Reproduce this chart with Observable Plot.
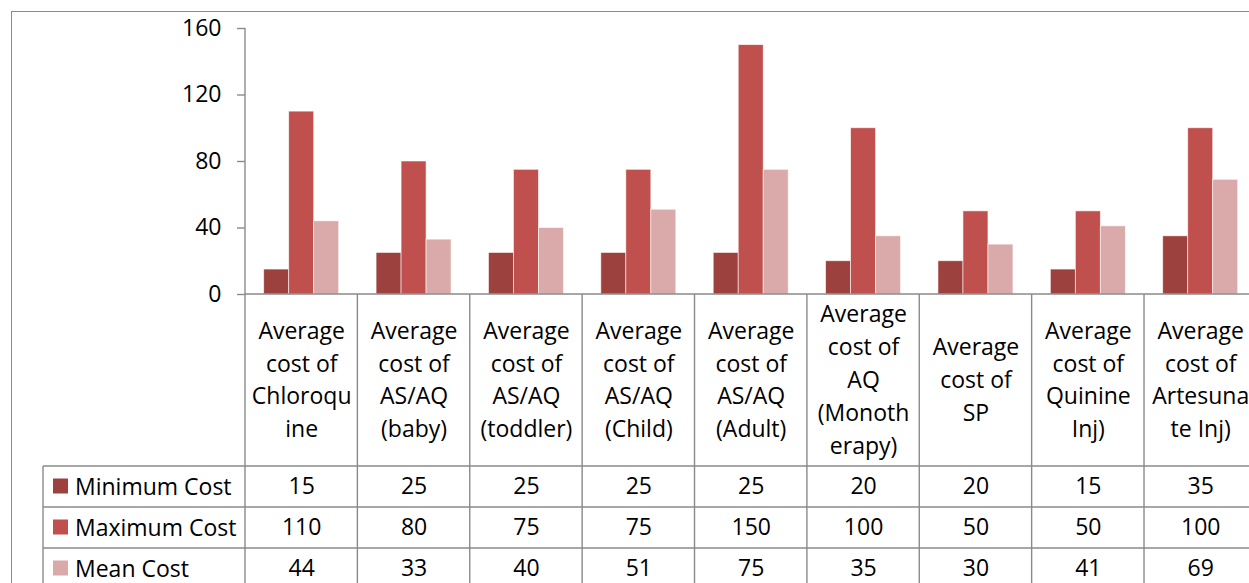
<!DOCTYPE html>
<html><head><meta charset="utf-8">
<script src="https://cdn.jsdelivr.net/npm/d3@7"></script>
<script src="https://cdn.jsdelivr.net/npm/@observablehq/plot@0.6"></script>
<style>
html,body{margin:0;padding:0;overflow:hidden;background:#fff;}
#wrap{position:relative;width:1249px;height:583px;overflow:hidden;}
#border{position:absolute;left:11px;top:11px;width:3000px;height:3000px;border:1.5px solid #8a8a8a;pointer-events:none;}
#chart{position:absolute;left:0;top:0;width:1262px;}
#chart svg{max-width:none !important;}
</style></head><body>
<div id="wrap"><div id="border"></div><div id="chart"></div></div>
<script>
const categories = ["Chloroquine","AS/AQ (baby)","AS/AQ (toddler)","AS/AQ (Child)","AS/AQ (Adult)","AQ (Monotherapy)","SP","Quinine Inj","Artesunate Inj"];
const categoryLabels = [
  "Average\ncost of\nChloroqu\nine",
  "Average\ncost of\nAS/AQ\n(baby)",
  "Average\ncost of\nAS/AQ\n(toddler)",
  "Average\ncost of\nAS/AQ\n(Child)",
  "Average\ncost of\nAS/AQ\n(Adult)",
  "Average\ncost of\nAQ\n(Monoth\nerapy)",
  "Average\ncost of\nSP",
  "Average\ncost of\nQuinine\nInj)",
  "Average\ncost of\nArtesuna\nte Inj)"
];
const series = ["Minimum Cost","Maximum Cost","Mean Cost"];
const minCost = [15,25,25,25,25,20,20,15,35];
const maxCost = [110,80,75,75,150,100,50,50,100];
const meanCost = [44,33,40,51,75,35,30,41,69];
const seriesColors = ["#9D413E","#C0504D","#D9AAA9"];
const yTicks = [0,40,80,120,160];

const seriesValues = [minCost, maxCost, meanCost];
const data = [];
series.forEach((s, si) => categories.forEach((c, ci) => data.push({category: c, series: s, value: seriesValues[si][ci]})));
const labelRows = categories.map((c, i) => ({category: c, label: categoryLabels[i]}));

const labelBand = 172, rowH = 41, legendLeft = 43;
const font = "'Open Sans', sans-serif";

const tableTexts = series.map((s, si) => Plot.text(data.filter(d => d.series === s), {
  fx: "category", text: d => String(d.value), frameAnchor: "bottom",
  dy: labelBand + rowH / 2 + si * rowH, lineAnchor: "middle", fill: "black"
}));

const chart = Plot.plot({
  width: 1262, height: 583,
  marginLeft: 245, marginRight: 5.6, marginTop: 28, marginBottom: 289,
  style: {fontFamily: font, fontSize: "23px", color: "black", background: "transparent", maxWidth: "none"},
  fx: {domain: categories, padding: 0, round: false, axis: null},
  x: {domain: series, paddingInner: 0, paddingOuter: 0.748, round: false, axis: null},
  y: {domain: [0, 160], axis: null},
  color: {domain: series, range: seriesColors},
  marks: [
    Plot.axisY({ticks: yTicks, tickSize: 8, tickPadding: 16, stroke: "#8a8a8a", strokeWidth: 1.4, color: "black", label: null, facetAnchor: "left"}),
    Plot.barY(data, {fx: "category", x: "series", y: "value", fill: "series", stroke: "white", strokeWidth: 0.8, strokeOpacity: 0.7}),
    Plot.text(labelRows, {fx: "category", text: "label", frameAnchor: "bottom", dy: labelBand / 2 - 3, lineAnchor: "middle", lineHeight: 1.425, fill: "black"}),
    ...tableTexts
  ]
});
document.getElementById("chart").appendChild(chart);

// table grid and legend keys, positioned from the plot's own scales
const svg = d3.select(chart);
const fxs = chart.scale("fx"), ys = chart.scale("y"), cs = chart.scale("color");
const y0 = ys.apply(0), yTop = ys.apply(160);
const bw = fxs.bandwidth;
const xs = categories.map(c => fxs.apply(c));
xs.push(xs[xs.length - 1] + bw);
const bottom = 600;
const g = svg.append("g").attr("stroke", "#8a8a8a").attr("stroke-width", 1.4).attr("fill", "none");
xs.forEach((x, i) => g.append("line").attr("x1", x).attr("x2", x).attr("y1", i === 0 ? yTop : y0).attr("y2", bottom));
g.append("line").attr("x1", xs[0]).attr("x2", xs[xs.length - 1]).attr("y1", y0).attr("y2", y0);
for (let r = 0; r < 3; r++) {
  const yy = y0 + labelBand + r * rowH;
  g.append("line").attr("x1", legendLeft).attr("x2", xs[xs.length - 1]).attr("y1", yy).attr("y2", yy);
}
g.append("line").attr("x1", legendLeft).attr("x2", legendLeft).attr("y1", y0 + labelBand).attr("y2", bottom);
const lg = svg.append("g").attr("text-anchor", "start");
series.forEach((s, si) => {
  const cy = y0 + labelBand + rowH / 2 + si * rowH;
  lg.append("rect").attr("x", legendLeft + 10).attr("y", cy - 8).attr("width", 15).attr("height", 15).attr("fill", cs.apply(s));
  lg.append("text").attr("x", legendLeft + 32).attr("y", cy).attr("dy", "0.35em").attr("fill", "black").attr("text-anchor", "start").text(s);
});
</script>
</body></html>
